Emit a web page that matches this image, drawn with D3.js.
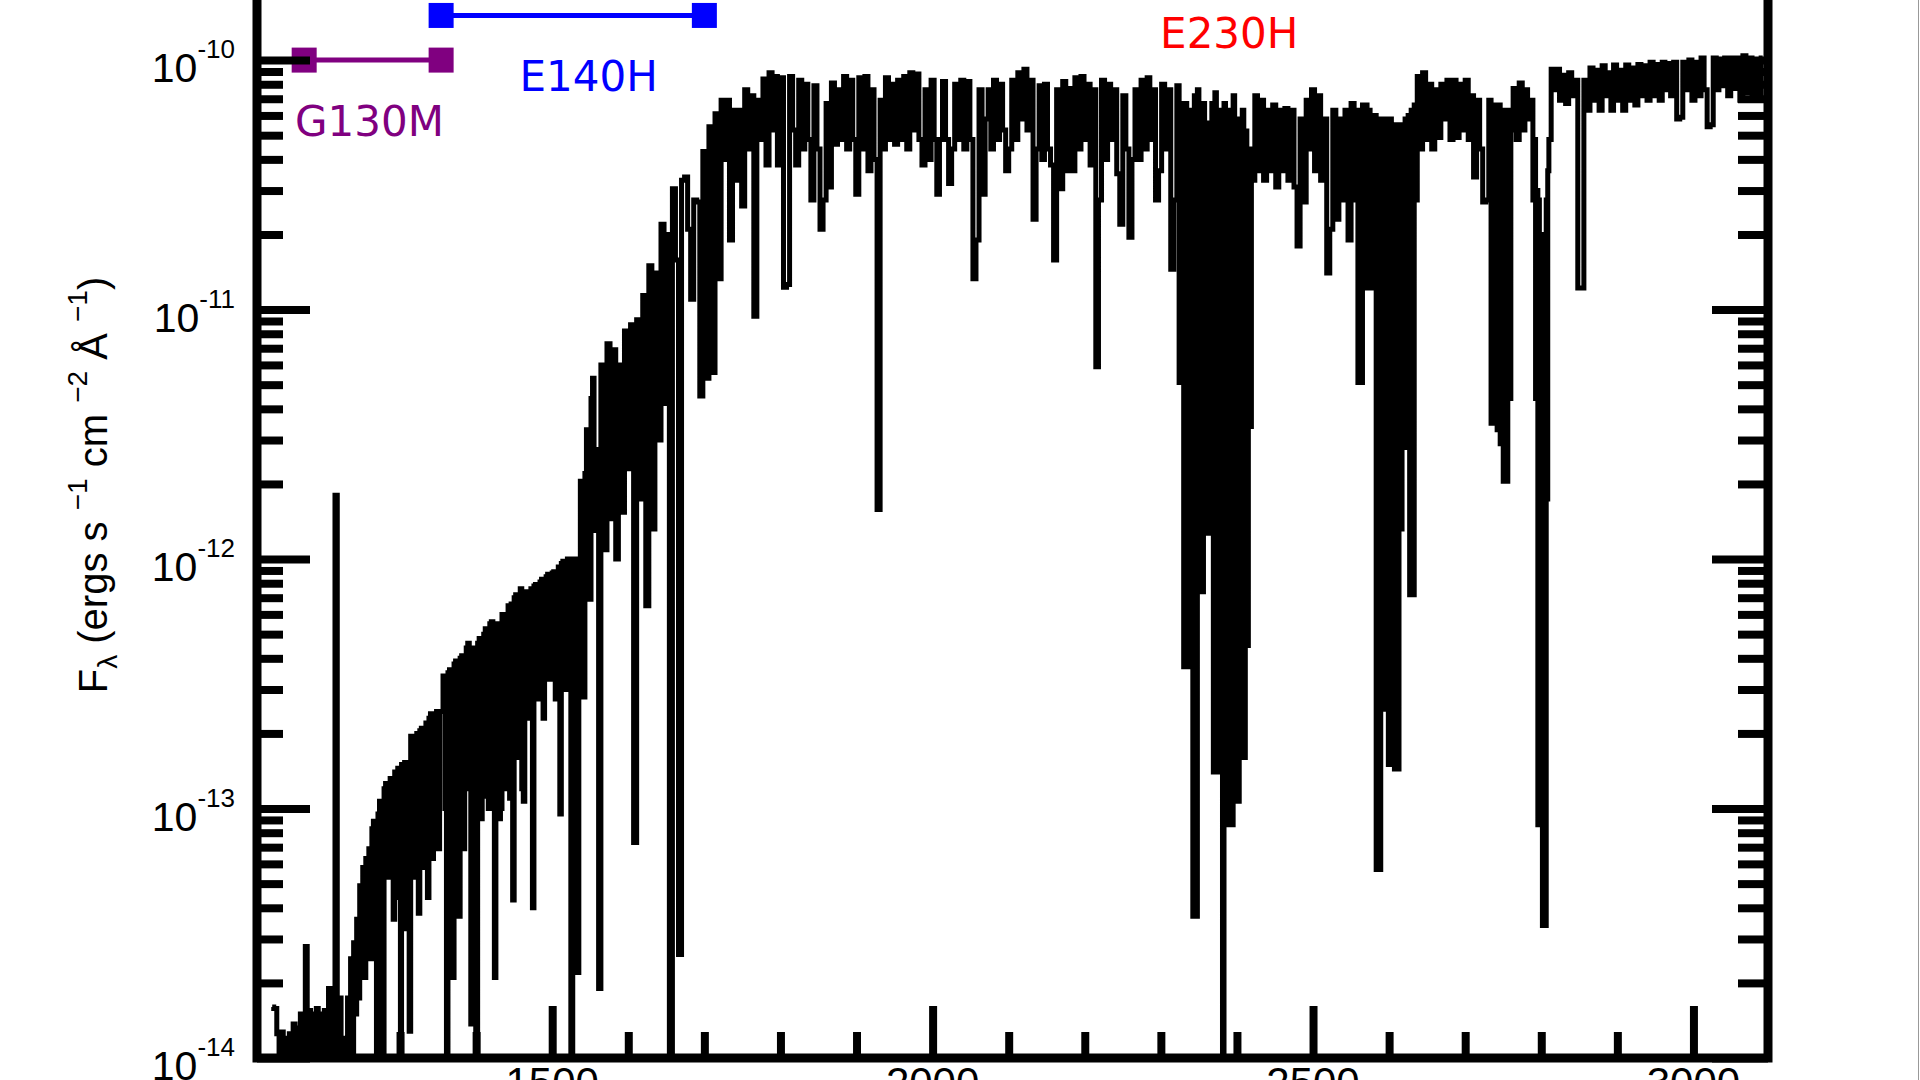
<!DOCTYPE html>
<html>
<head>
<meta charset="utf-8">
<script src="https://cdn.jsdelivr.net/npm/d3@7"></script>
<style>
  body { margin: 0; background: #fff; }
  svg { display: block; }
</style>
</head>
<body>
<script>
// Spectrum, one array per grating: [wavelength (A), flux (ergs s-1 cm-2 A-1)]
var g130m = [
  [1132, 1.6e-14], [1136, 1.58e-14], [1140, 1.25e-14], [1142, 5e-15], [1145, 1.27e-14],
  [1148, 5e-15], [1150, 1.2e-14], [1153, 5e-15], [1156, 1.25e-14], [1158, 5e-15],
  [1161, 1.37e-14], [1163, 5e-15], [1166, 1.32e-14], [1168, 5e-15], [1170, 1.5e-14],
  [1172, 5e-15], [1174, 1.45e-14], [1177, 2.8e-14], [1179, 5e-15], [1181, 1.55e-14],
  [1184, 5e-15], [1186, 1.5e-14], [1189, 5e-15], [1191, 1.58e-14], [1194, 5e-15],
  [1196, 1.5e-14], [1199, 5e-15], [1202, 1.55e-14], [1205, 5e-15], [1207, 1.9e-14],
  [1209, 5e-15], [1211, 1.85e-14], [1213, 5e-15], [1216, 1.8e-12], [1219, 5e-15],
  [1221, 1.74e-14], [1224, 1.2e-14], [1226, 5e-15], [1228, 1.1e-14], [1230, 5e-15],
  [1232, 1.74e-14], [1234, 5e-15], [1236, 2.5e-14], [1238, 5e-15], [1240, 2.9e-14],
  [1242, 1.5e-14], [1244, 3.6e-14], [1246, 1.74e-14], [1248, 4.9e-14], [1250, 2.5e-14],
  [1252, 5.8e-14], [1254, 2.1e-14], [1256, 6.3e-14], [1258, 3.3e-14], [1260, 6.9e-14],
  [1262, 2.5e-14], [1264, 8.3e-14], [1266, 8.9e-14], [1268, 4.0e-14], [1270, 5e-15],
  [1272, 9.5e-14], [1274, 1.07e-13], [1276, 4.4e-14], [1278, 5e-15], [1280, 1.2e-13],
  [1282, 1.26e-13], [1284, 5.3e-14], [1286, 6.6e-14], [1288, 1.32e-13], [1290, 1.32e-13],
  [1292, 3.6e-14], [1294, 1.4e-13], [1296, 6.9e-14], [1298, 1.45e-13], [1300, 4.4e-14],
  [1301, 5e-15], [1303, 1.5e-13], [1305, 3.3e-14], [1307, 1.53e-13], [1309, 4.0e-14],
  [1311, 1.2e-13], [1313, 1.28e-14], [1315, 1.95e-13], [1317, 1.95e-13], [1319, 5.3e-14],
  [1321, 1.9e-13], [1323, 2.0e-13], [1325, 3.8e-14], [1327, 2.05e-13], [1329, 2.1e-13],
  [1331, 5.8e-14], [1333, 2.1e-13], [1335, 2.2e-13], [1337, 4.4e-14], [1339, 2.3e-13],
  [1341, 2.4e-13], [1343, 6.3e-14], [1345, 2.4e-13], [1347, 1.45e-13], [1349, 2.45e-13],
  [1351, 6.9e-14], [1353, 2.45e-13], [1355, 2.45e-13]
];

var e140h = [
  [1358, 3.4e-13], [1360, 1.0e-13], [1362, 5e-15], [1364, 3.5e-13], [1366, 3.6e-13],
  [1368, 8.3e-14], [1370, 2.1e-14], [1372, 3.8e-13], [1374, 3.9e-13], [1376, 1.07e-13],
  [1378, 3.7e-14], [1380, 4.0e-13], [1382, 4.1e-13], [1384, 6.9e-14], [1386, 2.75e-13],
  [1388, 4.4e-13], [1390, 4.6e-13], [1392, 1.2e-13], [1394, 1.37e-14], [1396, 4.4e-13],
  [1398, 1.1e-13], [1401, 5e-15], [1403, 4.6e-13], [1405, 4.8e-13], [1407, 9.1e-14],
  [1409, 3.0e-13], [1411, 5.0e-13], [1413, 5.25e-13], [1415, 1.12e-13], [1417, 1.0e-13],
  [1419, 5.5e-13], [1421, 5.6e-13], [1423, 1.0e-13], [1425, 2.1e-14], [1427, 5.5e-13],
  [1429, 5.4e-13], [1431, 9.1e-14], [1433, 1.0e-13], [1435, 6.0e-13], [1437, 6.0e-13],
  [1439, 1.5e-13], [1441, 1.2e-13], [1443, 6.5e-13], [1445, 1.1e-13], [1447, 6.6e-13],
  [1449, 4.3e-14], [1451, 7.0e-13], [1453, 7.2e-13], [1455, 1.6e-13], [1457, 4.8e-13],
  [1459, 7.6e-13], [1461, 1.2e-13], [1463, 1.07e-13], [1465, 7.4e-13], [1467, 7.4e-13],
  [1469, 2.3e-13], [1471, 3.3e-13], [1473, 7.6e-13], [1475, 4.0e-14], [1477, 7.8e-13],
  [1479, 7.9e-13], [1481, 2.75e-13], [1483, 3.5e-13], [1485, 8.1e-13], [1487, 8.3e-13],
  [1489, 2.3e-13], [1491, 4.4e-13], [1493, 8.5e-13], [1495, 8.7e-13], [1497, 3.3e-13],
  [1499, 4.8e-13], [1501, 8.8e-13], [1503, 8.9e-13], [1505, 2.75e-13], [1507, 5.8e-13],
  [1509, 9.3e-13], [1511, 9.5e-14], [1513, 9.6e-13], [1515, 9.8e-13], [1517, 3.0e-13],
  [1519, 5.8e-13], [1521, 1.0e-12], [1523, 1.0e-12], [1526, 5e-15], [1528, 1.0e-12],
  [1530, 1.0e-12], [1532, 3.0e-13], [1534, 2.2e-14], [1536, 1.0e-12], [1538, 2.05e-12],
  [1540, 1.0e-12], [1542, 2.8e-13], [1544, 2.2e-12], [1546, 3.3e-12], [1548, 1.0e-12],
  [1550, 6.9e-13], [1552, 4.4e-12], [1554, 5.3e-12], [1556, 1.3e-12], [1558, 2.75e-12],
  [1560, 1.5e-12], [1562, 1.9e-14], [1566, 6.0e-12], [1570, 1.09e-12],
  [1574, 7.3e-12], [1578, 1.45e-12], [1582, 6.9e-12], [1585, 1.0e-12], [1589, 6.0e-12],
  [1593, 1.54e-12], [1597, 8.2e-12], [1601, 2.3e-12], [1605, 8.7e-12], [1609, 7.3e-14],
  [1613, 9.1e-12], [1617, 1.74e-12], [1621, 1.14e-11], [1625, 6.5e-13], [1629, 1.5e-11],
  [1633, 1.32e-12], [1637, 1.4e-11], [1641, 3.0e-12], [1645, 2.2e-11], [1649, 4.2e-12],
  [1652, 2.0e-11], [1656, 5e-15], [1660, 3.05e-11], [1664, 1.58e-11], [1668, 2.6e-14],
  [1672, 3.3e-11], [1676, 3.4e-11], [1680, 2.1e-11], [1684, 1.1e-11], [1688, 2.75e-11],
  [1692, 2.7e-11], [1696, 4.5e-12], [1700, 4.3e-11]
];

var e230h = [
  [1704, 5.3e-12], [1708, 5.4e-11], [1712, 5.6e-12], [1716, 6.1e-11], [1720, 1.33e-11],
  [1724, 6.9e-11], [1727, 4.0e-11], [1731, 6.9e-11], [1735, 1.9e-11], [1739, 6.3e-11],
  [1743, 3.3e-11], [1747, 6.3e-11], [1751, 2.6e-11], [1755, 7.6e-11], [1759, 4.4e-11],
  [1763, 7.2e-11], [1767, 9.4e-12], [1771, 6.9e-11], [1775, 4.8e-11], [1779, 8.4e-11],
  [1783, 3.8e-11], [1787, 8.9e-11], [1791, 5.25e-11], [1794, 8.6e-11], [1798, 3.8e-11],
  [1802, 8.5e-11], [1806, 1.23e-11], [1810, 1.26e-11], [1814, 8.6e-11], [1818, 5.25e-11],
  [1822, 3.8e-11], [1826, 8.3e-11], [1830, 4.4e-11], [1834, 8.0e-11], [1838, 4.8e-11],
  [1842, 2.75e-11], [1846, 7.9e-11], [1850, 4.4e-11], [1854, 2.1e-11], [1858, 2.75e-11],
  [1862, 6.7e-11], [1865, 3.1e-11], [1869, 8.1e-11], [1873, 4.6e-11], [1877, 7.6e-11],
  [1881, 4.8e-11], [1885, 8.6e-11], [1889, 4.4e-11], [1893, 8.3e-11], [1897, 4.8e-11],
  [1901, 2.9e-11], [1905, 8.5e-11], [1909, 4.4e-11], [1913, 8.6e-11], [1917, 3.6e-11],
  [1921, 7.6e-11], [1925, 4.0e-11], [1929, 1.58e-12], [1933, 6.9e-11], [1936, 4.4e-11],
  [1940, 8.5e-11], [1944, 4.8e-11], [1948, 8.0e-11], [1952, 4.6e-11], [1956, 8.3e-11],
  [1960, 4.8e-11], [1964, 8.6e-11], [1968, 4.4e-11], [1972, 8.9e-11], [1976, 5.25e-11],
  [1980, 8.8e-11], [1984, 4.8e-11], [1988, 3.8e-11], [1992, 7.6e-11], [1996, 4.0e-11],
  [2000, 8.3e-11], [2004, 4.8e-11], [2007, 2.9e-11], [2011, 4.8e-11], [2015, 8.2e-11],
  [2019, 4.8e-11], [2023, 3.2e-11], [2027, 4.4e-11], [2031, 8.0e-11], [2035, 4.8e-11],
  [2039, 8.3e-11], [2043, 4.4e-11], [2047, 8.2e-11], [2051, 4.8e-11], [2055, 1.33e-11],
  [2059, 1.9e-11], [2063, 7.6e-11], [2067, 2.9e-11], [2071, 5.8e-11], [2075, 7.6e-11],
  [2078, 4.4e-11], [2082, 8.3e-11], [2086, 4.8e-11], [2090, 8.0e-11], [2094, 5.25e-11],
  [2098, 3.6e-11], [2102, 4.4e-11], [2106, 8.3e-11], [2110, 4.8e-11], [2114, 8.9e-11],
  [2118, 5.8e-11], [2122, 9.2e-11], [2126, 5.25e-11], [2130, 8.3e-11], [2134, 2.3e-11],
  [2138, 4.4e-11], [2142, 7.9e-11], [2145, 4.0e-11], [2149, 8.0e-11], [2153, 4.4e-11],
  [2157, 3.8e-11], [2161, 1.58e-11], [2165, 7.6e-11], [2169, 3.05e-11], [2173, 8.2e-11],
  [2177, 3.6e-11], [2181, 7.7e-11], [2185, 3.6e-11], [2189, 8.5e-11], [2193, 4.4e-11],
  [2197, 8.6e-11], [2201, 4.8e-11], [2205, 8.0e-11], [2209, 3.8e-11], [2213, 7.6e-11],
  [2216, 5.9e-12], [2220, 2.75e-11], [2224, 8.3e-11], [2228, 4.0e-11], [2232, 8.0e-11],
  [2236, 4.8e-11], [2240, 7.6e-11], [2244, 3.5e-11], [2248, 2.2e-11], [2252, 7.2e-11],
  [2256, 4.4e-11], [2260, 1.95e-11], [2264, 4.0e-11], [2268, 7.6e-11], [2272, 4.0e-11],
  [2276, 8.3e-11], [2280, 4.4e-11], [2284, 8.5e-11], [2287, 4.8e-11], [2291, 7.6e-11],
  [2295, 2.75e-11], [2299, 3.6e-11], [2303, 8.0e-11], [2307, 4.4e-11], [2311, 7.6e-11],
  [2315, 1.45e-11], [2319, 2.75e-11], [2323, 7.9e-11],
  [2325, 5.1e-12], [2327, 6.7e-11], [2329, 5.1e-12], [2331, 3.7e-13], [2333, 6.7e-11],
  [2335, 3.7e-13], [2337, 6.3e-11], [2339, 2.2e-12], [2341, 5.6e-11], [2343, 3.7e-14],
  [2345, 7.2e-11], [2347, 3.7e-14], [2349, 7.6e-11], [2351, 7.4e-13], [2353, 6.3e-11],
  [2355, 7.4e-13], [2357, 6.7e-11], [2358, 3.4e-12], [2360, 5.6e-11], [2362, 1.27e-12],
  [2364, 5.2e-11], [2366, 2.2e-12], [2368, 6.7e-11], [2370, 1.4e-13], [2372, 7.4e-11],
  [2374, 1.4e-13], [2376, 6.3e-11], [2378, 2.75e-13], [2380, 5.8e-11], [2382, 5e-15],
  [2384, 6.7e-11], [2386, 3.05e-13], [2388, 5.6e-11], [2390, 8.6e-14], [2392, 6.3e-11],
  [2394, 8.6e-14], [2396, 7.2e-11], [2398, 1.07e-13], [2400, 5.8e-11], [2402, 1.07e-13],
  [2404, 5.6e-11], [2406, 1.6e-13], [2408, 6.3e-11], [2410, 1.6e-13], [2412, 5.2e-11],
  [2414, 4.5e-13], [2416, 4.4e-11], [2418, 3.4e-12], [2420, 3.6e-11], [2422, 3.3e-11],
  [2425, 7.2e-11], [2429, 3.6e-11],
  [2433, 6.9e-11], [2437, 3.3e-11], [2441, 6.3e-11], [2445, 3.6e-11], [2449, 6.6e-11],
  [2453, 3.1e-11], [2457, 6.3e-11], [2461, 3.6e-11], [2465, 6.4e-11], [2469, 3.3e-11],
  [2473, 6.3e-11], [2477, 3.1e-11], [2481, 1.8e-11], [2485, 5.8e-11], [2489, 2.7e-11],
  [2493, 6.9e-11], [2496, 4.4e-11], [2500, 7.6e-11], [2504, 3.6e-11], [2508, 7.2e-11],
  [2512, 3.3e-11], [2516, 5.8e-11], [2520, 1.4e-11], [2524, 2.1e-11], [2528, 6.3e-11],
  [2532, 2.3e-11], [2536, 5.8e-11], [2540, 2.75e-11], [2544, 6.3e-11], [2548, 1.9e-11],
  [2552, 6.7e-11], [2556, 2.75e-11],
  [2558, 6.3e-11], [2560, 5.1e-12], [2562, 6.0e-11], [2564, 5.1e-12], [2566, 6.6e-11],
  [2568, 1.32e-11], [2570, 6.6e-11], [2572, 1.22e-11], [2574, 6.3e-11], [2576, 1.22e-11],
  [2578, 5.8e-11], [2580, 1.95e-11], [2582, 6.0e-11], [2584, 5.7e-14], [2586, 5.8e-11],
  [2588, 5.7e-14], [2590, 5.5e-11], [2592, 1.3e-11], [2594, 5.8e-11], [2596, 2.5e-13],
  [2598, 5.5e-11], [2600, 1.5e-13], [2602, 5.8e-11], [2604, 4.2e-13], [2606, 5.5e-11],
  [2608, 1.44e-13], [2610, 5.25e-11], [2612, 1.44e-13], [2614, 5.5e-11], [2616, 1.32e-12],
  [2618, 5.25e-11], [2620, 2.8e-12], [2622, 5.8e-11], [2624, 2.8e-12], [2626, 6.0e-11],
  [2628, 7.2e-13], [2630, 6.3e-11], [2632, 7.2e-13], [2634, 6.6e-11], [2636, 2.75e-11],
  [2638, 8.6e-11], [2642, 4.4e-11], [2646, 8.9e-11],
  [2650, 4.8e-11], [2654, 8.0e-11], [2658, 4.4e-11], [2662, 7.6e-11], [2666, 4.9e-11],
  [2670, 8.0e-11], [2674, 5.8e-11], [2678, 8.3e-11], [2682, 4.8e-11], [2686, 8.3e-11],
  [2690, 4.9e-11], [2694, 8.0e-11], [2698, 5.25e-11], [2702, 8.3e-11], [2706, 4.8e-11],
  [2709, 7.2e-11], [2713, 3.4e-11], [2717, 6.9e-11], [2721, 4.4e-11], [2725, 2.7e-11],
  [2729, 2.75e-11], [2733, 6.9e-11], [2735, 3.5e-12], [2737, 6.6e-11], [2739, 3.5e-12],
  [2741, 6.3e-11], [2743, 3.3e-12], [2745, 6.6e-11], [2747, 2.9e-12], [2749, 6.3e-11],
  [2751, 2.05e-12], [2753, 6.0e-11], [2755, 2.05e-12], [2757, 6.3e-11], [2759, 4.4e-12],
  [2761, 5.25e-11], [2765, 7.7e-11],
  [2769, 4.8e-11], [2773, 8.1e-11], [2777, 5.25e-11], [2780, 7.6e-11], [2784, 5.8e-11],
  [2788, 6.9e-11], [2790, 2.75e-11], [2792, 4.8e-11], [2793, 4.4e-12], [2795, 3.0e-11],
  [2796, 8.6e-14], [2797, 2.75e-11], [2798, 8.6e-14], [2799, 2.0e-11], [2800, 9.1e-14],
  [2801, 1.5e-11], [2802, 3.4e-14], [2803, 1.5e-11], [2804, 3.4e-14], [2805, 2.0e-11],
  [2806, 3.4e-14], [2807, 2.75e-11], [2808, 1.74e-12], [2809, 3.6e-11], [2811, 4.8e-11],
  [2815, 9.2e-11],
  [2819, 7.6e-11], [2822, 9.2e-11], [2826, 6.9e-11], [2830, 8.7e-11], [2834, 6.7e-11],
  [2838, 8.9e-11], [2842, 7.2e-11], [2846, 8.3e-11], [2850, 1.22e-11], [2854, 1.22e-11],
  [2858, 8.3e-11], [2862, 6.3e-11], [2866, 9.3e-11], [2870, 6.9e-11], [2874, 9.1e-11],
  [2878, 6.3e-11], [2882, 9.5e-11], [2886, 7.2e-11], [2890, 8.9e-11], [2893, 6.3e-11],
  [2897, 9.55e-11], [2901, 6.9e-11], [2905, 9.1e-11], [2909, 6.3e-11], [2913, 9.55e-11],
  [2917, 6.9e-11], [2921, 9.3e-11], [2925, 6.6e-11], [2929, 9.6e-11], [2933, 7.2e-11],
  [2937, 9.5e-11], [2941, 6.9e-11], [2945, 9.8e-11], [2949, 7.2e-11], [2953, 9.6e-11],
  [2957, 6.9e-11], [2961, 9.8e-11], [2964, 7.6e-11], [2968, 9.7e-11], [2972, 7.2e-11],
  [2976, 9.8e-11], [2980, 5.8e-11], [2984, 5.9e-11], [2988, 9.8e-11], [2992, 7.6e-11],
  [2996, 1.0e-10], [3000, 6.9e-11], [3004, 9.8e-11], [3008, 7.2e-11], [3012, 1.02e-10],
  [3016, 7.6e-11], [3020, 5.4e-11], [3024, 5.5e-11], [3028, 1.02e-10], [3032, 7.6e-11],
  [3035, 1.0e-10], [3039, 7.9e-11], [3043, 1.02e-10], [3047, 7.2e-11], [3051, 1.02e-10],
  [3055, 7.7e-11], [3059, 1.02e-10], [3063, 6.9e-11], [3067, 1.04e-10], [3071, 7.4e-11],
  [3075, 1.02e-10], [3079, 6.9e-11], [3083, 1.0e-10], [3087, 7.2e-11], [3091, 1.02e-10]
];

// Grating coverage bars
var barNames = ["G130M", "E140H"];
var barColors = ["purple", "#0000ff"];
var barStart = [1174, 1354];
var barEnd = [1354, 1700];
var barFlux = [1.0e-10, 1.51e-10];

// Grating labels (wavelength, flux of the baseline)
var labelNames = ["G130M", "E140H", "E230H"];
var labelColors = ["purple", "#0000ff", "#ff0000"];
var labelWave = [1162, 1457, 2299];
var labelFlux = [4.97e-11, 7.5e-11, 1.117e-10];

// Ticks
var xMajor = [1500, 2000, 2500, 3000];
var yMajor = [1e-14, 1e-13, 1e-12, 1e-11, 1e-10];
var yExp = ["-14", "-13", "-12", "-11", "-10"];

var width = 1920;
var height = 1080;
var plotL = 257, plotR = 1768, plotT = -15, plotB = 1058;

var tickFont = "'Liberation Sans', Arial, sans-serif";
var labelFont = "'DejaVu Sans', sans-serif";

var svg = d3.select('body').append('svg')
    .attr('width', width)
    .attr('height', height);

svg.append('rect').attr('width', width).attr('height', height).attr('fill', '#fff');

var x = d3.scaleLinear().domain([1112, 3098]).range([plotL, plotR]);
var y = d3.scaleLog().domain([1e-14, 2e-10]).range([plotB, plotT]);

svg.append('defs').append('clipPath')
    .attr('id', 'plotClip')
  .append('rect')
    .attr('x', plotL).attr('y', plotT)
    .attr('width', plotR - plotL).attr('height', plotB - plotT);

// spectrum, drawn as steps
var spectrum = g130m.concat(e140h, e230h);
var line = d3.line()
    .x(function (d) { return x(d[0]); })
    .y(function (d) { return y(d[1]); })
    .curve(d3.curveStep);

svg.append('path')
    .datum(spectrum)
    .attr('clip-path', 'url(#plotClip)')
    .attr('d', line)
    .attr('fill', 'none')
    .attr('stroke', '#000')
    .attr('stroke-width', 5);

// coverage bars
barNames.forEach(function (name, i) {
    var g = svg.append('g');
    g.append('line')
        .attr('x1', x(barStart[i])).attr('x2', x(barEnd[i]))
        .attr('y1', y(barFlux[i])).attr('y2', y(barFlux[i]))
        .attr('stroke', barColors[i])
        .attr('stroke-width', 5);
    g.selectAll('rect')
        .data([barStart[i], barEnd[i]])
        .enter().append('rect')
        .attr('x', function (d) { return x(d) - 12.5; })
        .attr('y', y(barFlux[i]) - 12.5)
        .attr('width', 25)
        .attr('height', 25)
        .attr('fill', barColors[i]);
});

labelNames.forEach(function (name, i) {
    svg.append('text')
        .attr('x', x(labelWave[i]))
        .attr('y', y(labelFlux[i]))
        .attr('fill', labelColors[i])
        .style('font-family', labelFont)
        .style('font-size', '42px')
        .text(name);
});

// axes
function styleAxis(g, tickWidth) {
    g.select('.domain').remove();
    g.selectAll('.tick line').attr('stroke', '#000').attr('stroke-width', tickWidth);
    g.selectAll('.tick text').remove();
}

var yMinor = y.ticks().filter(function (d) { return yMajor.indexOf(d) < 0 && d < 1.5e-10; });
var xMinor = x.ticks(20).filter(function (d) { return xMajor.indexOf(d) < 0; });

svg.append('g').attr('transform', 'translate(' + plotL + ',0)')
    .call(d3.axisLeft(y).tickValues(yMinor).tickSizeInner(-26).tickSizeOuter(0))
    .call(styleAxis, 8);
svg.append('g').attr('transform', 'translate(' + plotL + ',0)')
    .call(d3.axisLeft(y).tickValues(yMajor).tickSizeInner(-53).tickSizeOuter(0))
    .call(styleAxis, 8);
svg.append('g').attr('transform', 'translate(' + plotR + ',0)')
    .call(d3.axisRight(y).tickValues(yMinor).tickSizeInner(-30).tickSizeOuter(0))
    .call(styleAxis, 8);
svg.append('g').attr('transform', 'translate(' + plotR + ',0)')
    .call(d3.axisRight(y).tickValues(yMajor).tickSizeInner(-56).tickSizeOuter(0))
    .call(styleAxis, 8);
svg.append('g').attr('transform', 'translate(0,' + plotB + ')')
    .call(d3.axisBottom(x).tickValues(xMinor).tickSizeInner(-26).tickSizeOuter(0))
    .call(styleAxis, 8);
svg.append('g').attr('transform', 'translate(0,' + plotB + ')')
    .call(d3.axisBottom(x).tickValues(xMajor).tickSizeInner(-52).tickSizeOuter(0))
    .call(styleAxis, 8);

// frame
svg.append('rect')
    .attr('x', plotL).attr('y', plotT)
    .attr('width', plotR - plotL).attr('height', plotB - plotT)
    .attr('fill', 'none')
    .attr('stroke', '#000')
    .attr('stroke-width', 9);

// tick labels
yMajor.forEach(function (v, i) {
    var t = svg.append('text')
        .attr('x', 235)
        .attr('y', y(v) + 22)
        .attr('text-anchor', 'end')
        .style('font-family', tickFont)
        .style('font-size', '41px');
    t.append('tspan').text('10');
    t.append('tspan').attr('dy', -24).style('font-size', '26px').text(yExp[i]);
});

xMajor.forEach(function (v) {
    svg.append('text')
        .attr('x', x(v))
        .attr('y', 1097)
        .attr('text-anchor', 'middle')
        .style('font-family', tickFont)
        .style('font-size', '42px')
        .text(v);
});

// y axis title
var yt = svg.append('text')
    .attr('transform', 'translate(107,485) rotate(-90)')
    .attr('text-anchor', 'middle')
    .style('font-family', tickFont)
    .style('font-size', '40px');
yt.append('tspan').text('F');
yt.append('tspan').attr('dy', 10).style('font-size', '28px').text('\u03bb');
yt.append('tspan').attr('dy', -10).text(' (ergs s ');
yt.append('tspan').attr('dy', -20).style('font-size', '28px').text('\u22121');
yt.append('tspan').attr('dy', 20).text(' cm ');
yt.append('tspan').attr('dy', -20).style('font-size', '28px').text('\u22122');
yt.append('tspan').attr('dy', 20).text(' \u00c5 ');
yt.append('tspan').attr('dy', -20).style('font-size', '28px').text('\u22121');
yt.append('tspan').attr('dy', 20).text(')');

// thin figure edge at the right
svg.append('line')
    .attr('x1', 1918.5).attr('x2', 1918.5)
    .attr('y1', 0).attr('y2', height)
    .attr('stroke', '#999')
    .attr('stroke-width', 1);
</script>
</body>
</html>
